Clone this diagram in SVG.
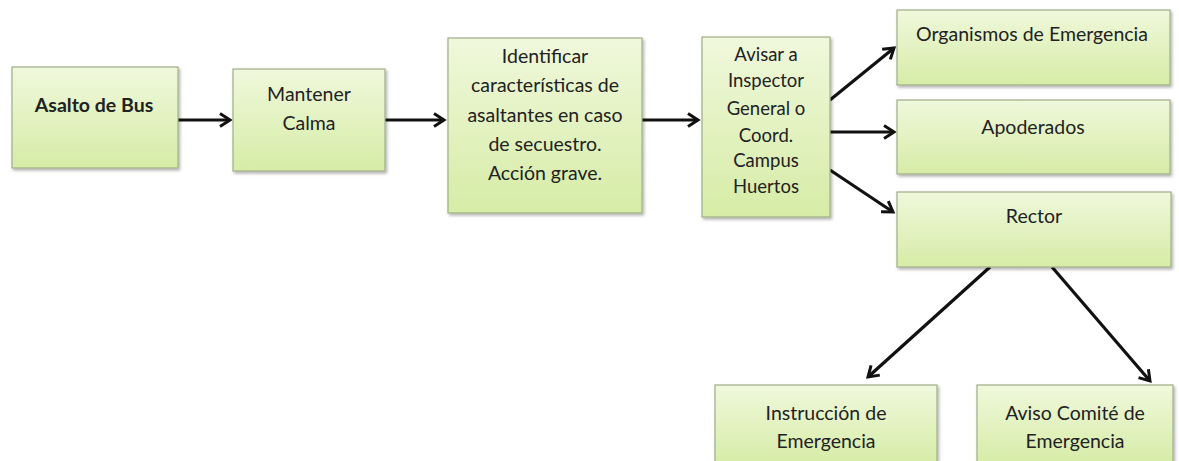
<svg xmlns="http://www.w3.org/2000/svg" width="1179" height="461" viewBox="0 0 1179 461">
<defs>
<linearGradient id="g" x1="0" y1="0" x2="0" y2="1">
<stop offset="0" stop-color="#f0f8dc"/>
<stop offset="1" stop-color="#d6eca6"/>
</linearGradient>
<filter id="sh" x="-5%" y="-5%" width="115%" height="120%">
<feDropShadow dx="1.5" dy="2" stdDeviation="1.5" flood-color="#000" flood-opacity="0.3"/>
</filter>
<marker id="ah" viewBox="0 0 16 16" refX="13" refY="8" markerWidth="16" markerHeight="16" markerUnits="userSpaceOnUse" orient="auto">
<path d="M3,1.5 L13,8 L3,14.5" fill="none" stroke="#111" stroke-width="3" stroke-linejoin="miter"/>
</marker>
</defs>
<style>
.box{fill:url(#g);stroke:#a0ad88;stroke-width:1.2;filter:url(#sh)}
.t{font-family:Lato,"Noto Sans",sans-serif;font-size:19.5px;fill:#222;text-anchor:middle;dominant-baseline:central}
.s{font-size:18.5px}
.b{font-weight:bold}
.c{stroke:#111;stroke-width:3.2;fill:none;marker-end:url(#ah)}
</style>
<rect width="1179" height="461" fill="#fff"/>
<g id="connectors">
<line class="c" x1="178" y1="120" x2="230" y2="120"/>
<line class="c" x1="385" y1="120" x2="444" y2="120"/>
<line class="c" x1="642" y1="120" x2="698" y2="120"/>
<line class="c" x1="830" y1="100" x2="894" y2="48"/>
<line class="c" x1="830" y1="132" x2="894" y2="132"/>
<line class="c" x1="830" y1="170" x2="893" y2="212"/>
<line class="c" x1="990" y1="267" x2="868" y2="377"/>
<line class="c" x1="1052" y1="267" x2="1150" y2="381"/>
</g>
<g id="n1"><rect class="box" x="12" y="67" width="166" height="101"/><text class="t b" x="94" y="104">Asalto de Bus</text></g>
<g id="n2"><rect class="box" x="233" y="69" width="152" height="102"/><text class="t" x="309" y="93">Mantener</text><text class="t" x="309" y="122">Calma</text></g>
<g id="n3"><rect class="box" x="448" y="38" width="194" height="175"/>
<text class="t" x="545" y="55">Identificar</text>
<text class="t" x="545" y="84">características de</text>
<text class="t" x="545" y="114">asaltantes en caso</text>
<text class="t" x="545" y="143">de secuestro.</text>
<text class="t" x="545" y="172">Acción grave.</text></g>
<g id="n4"><rect class="box" x="702" y="37" width="128" height="180"/>
<text class="t s" x="766" y="54">Avisar a</text>
<text class="t s" x="766" y="80">Inspector</text>
<text class="t s" x="766" y="108">General o</text>
<text class="t s" x="766" y="135">Coord.</text>
<text class="t s" x="766" y="160">Campus</text>
<text class="t s" x="766" y="186">Huertos</text></g>
<g id="n5"><rect class="box" x="897" y="10" width="273" height="75"/><text class="t" x="1032" y="33">Organismos de Emergencia</text></g>
<g id="n6"><rect class="box" x="897" y="100" width="273" height="74"/><text class="t" x="1033" y="126">Apoderados</text></g>
<g id="n7"><rect class="box" x="897" y="192" width="274" height="75"/><text class="t" x="1034" y="215">Rector</text></g>
<g id="n8"><rect class="box" x="715" y="385" width="222" height="80"/><text class="t" x="826" y="412">Instrucción de</text><text class="t" x="826" y="440">Emergencia</text></g>
<g id="n9"><rect class="box" x="977" y="385" width="196" height="80"/><text class="t" x="1075" y="412">Aviso Comité de</text><text class="t" x="1075" y="440">Emergencia</text></g>
</svg>
